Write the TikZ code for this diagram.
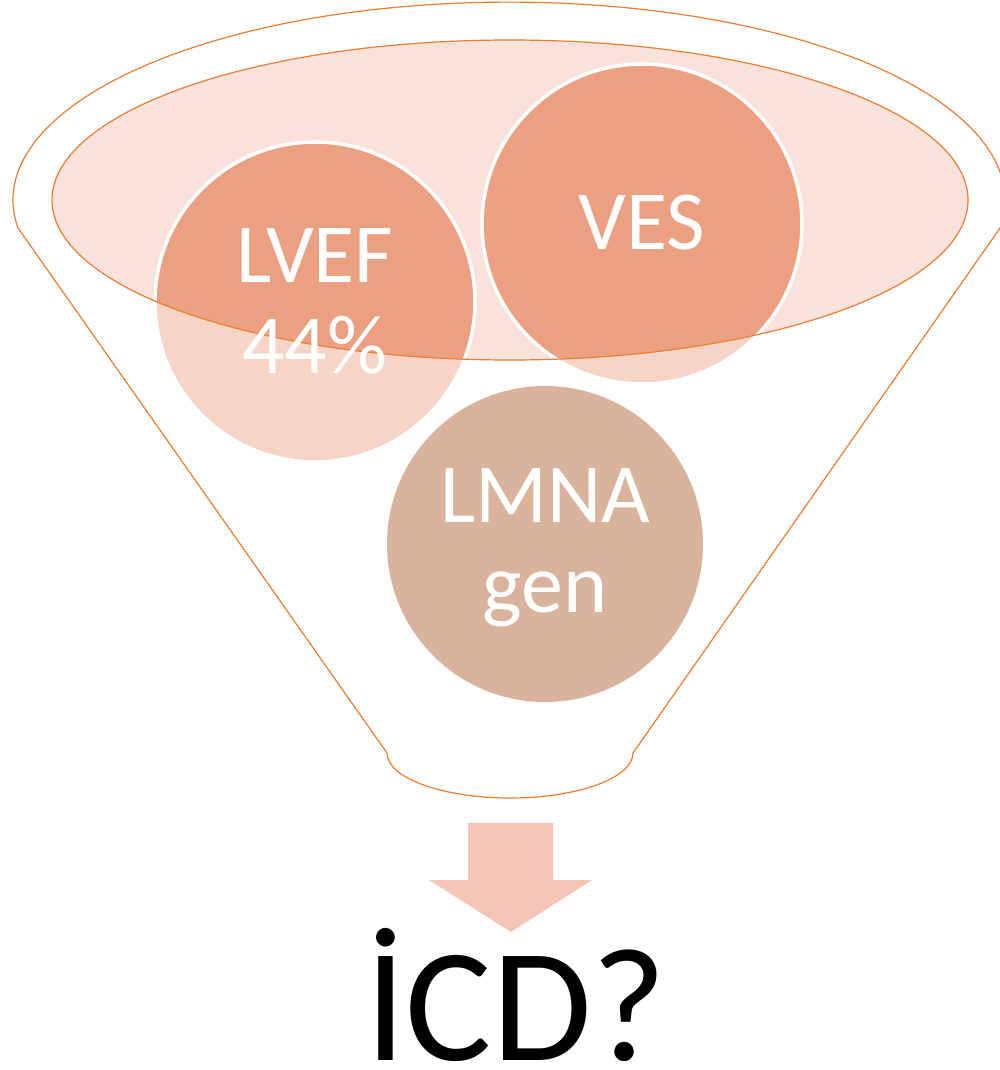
\documentclass[tikz,border=0pt]{standalone}
\usepackage{fontspec}
\setmainfont{Carlito}
\definecolor{rimorange}{HTML}{ED7D31}
\definecolor{mouthfill}{HTML}{F9E2DA}
\definecolor{ballfill}{HTML}{ECA082}
\definecolor{genefill}{HTML}{D9B39B}
\definecolor{arrowfill}{HTML}{F5C6B5}
% outline of the funnel body: top rim, two sides, rounded spout
\newcommand\funnelbody{(18,-228) arc[start angle=188.1, end angle=-8.1, x radius=496pt, y radius=198pt] -- (633,-753) arc[start angle=0, end angle=-180, x radius=123pt, y radius=45pt] -- cycle}
\newcommand\funnelmouth{(510,-200) ellipse[x radius=458pt, y radius=160pt]}
\begin{document}
\begin{tikzpicture}[x=1pt,y=1pt,
  ball/.style={circle, minimum size=320pt, inner sep=0pt, fill=ballfill, draw=white, line width=3.5pt},
  rim/.style={draw=rimorange, line width=1.2pt},
  lbl/.style={text=white, font=\fontsize{84}{91}\selectfont, anchor=base, inner sep=0pt}]
\useasboundingbox (0,0) rectangle (1000,-1070);

% inside of the funnel mouth
\fill[mouthfill] \funnelmouth;

% the two items dropped into the funnel
\node[ball] (lvef) at (315,-302) {};
\node[ball] (ves) at (642,-224) {};

% translucent front wall of the funnel (everything but the mouth)
\fill[white, fill opacity=0.55, even odd rule] \funnelbody \funnelmouth;

% funnel outlines
\draw[rim] \funnelbody;
\draw[rim] \funnelmouth;

% item in front of the funnel wall
\node[ball, fill=genefill, draw=none, minimum size=316pt] (lmna) at (545,-544) {};

% labels
\node[lbl] (lveft) at (315,-282) {LVEF};
\node[lbl] (lvefp) at (315,-373) {44\%};
\node[lbl] (vest) at (642,-249) {VES};
\node[lbl] (lmnat) at (545,-522) {LMNA};
\node[lbl] (lmnag) at (545,-612) {gen};

% output arrow
\fill[arrowfill] (468,-823) -- (553,-823) -- (553,-880) -- (592,-880) -- (511,-932) -- (429,-880) -- (468,-880) -- cycle;

% result
\node[anchor=base, inner sep=0pt, font=\fontsize{162}{162}\selectfont] (icd) at (516,-1060) {İCD?};
\end{tikzpicture}
\end{document}
